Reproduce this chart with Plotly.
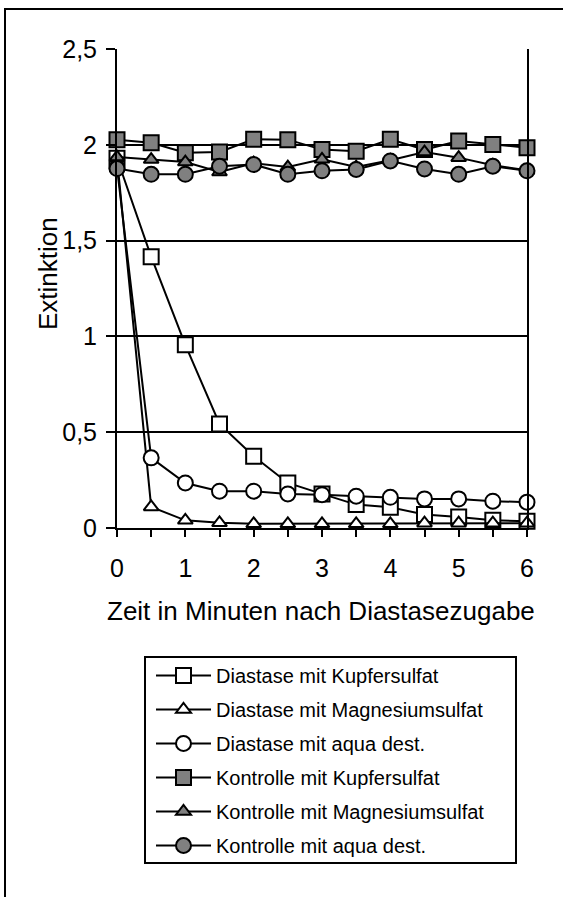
import plotly.graph_objects as go

# ---- data ----
zeit = [0, 0.5, 1, 1.5, 2, 2.5, 3, 3.5, 4, 4.5, 5, 5.5, 6]

diastase_kupfer = [1.93, 1.416, 0.956, 0.543, 0.374, 0.235, 0.178, 0.122, 0.108, 0.07, 0.058, 0.041, 0.035]
diastase_magnesium = [1.93, 0.11, 0.04, 0.027, 0.022, 0.022, 0.022, 0.022, 0.022, 0.025, 0.025, 0.025, 0.025]
diastase_aqua = [1.88, 0.366, 0.235, 0.192, 0.192, 0.178, 0.174, 0.166, 0.16, 0.152, 0.152, 0.14, 0.135]
kontrolle_kupfer = [2.027, 2.011, 1.959, 1.963, 2.029, 2.027, 1.975, 1.966, 2.029, 1.975, 2.02, 2.001, 1.985]
kontrolle_magnesium = [1.936, 1.923, 1.91, 1.858, 1.904, 1.884, 1.924, 1.884, 1.919, 1.962, 1.933, 1.893, 1.867]
kontrolle_aqua = [1.876, 1.846, 1.846, 1.888, 1.897, 1.846, 1.864, 1.871, 1.916, 1.874, 1.846, 1.888, 1.864]

series_names = [
    "Diastase mit Kupfersulfat",
    "Diastase mit Magnesiumsulfat",
    "Diastase mit aqua dest.",
    "Kontrolle mit Kupfersulfat",
    "Kontrolle mit Magnesiumsulfat",
    "Kontrolle mit aqua dest.",
]
series_values = [diastase_kupfer, diastase_magnesium, diastase_aqua,
                 kontrolle_kupfer, kontrolle_magnesium, kontrolle_aqua]

y_tickvals = [0, 0.5, 1, 1.5, 2, 2.5]
y_ticktext = ["0", "0,5", "1", "1,5", "2", "2,5"]
x_tickvals = [0, 0.5, 1, 1.5, 2, 2.5, 3, 3.5, 4, 4.5, 5, 5.5, 6]
x_ticktext = ["0", "", "1", "", "2", "", "3", "", "4", "", "5", "", "6"]

x_title = "Zeit in Minuten nach Diastasezugabe"
y_title = "Extinktion"

# ---- styles ----
GRAY = "#808080"
symbols = ["square", "triangle-up", "circle", "square", "triangle-up", "circle"]
fills = ["white", "white", "white", GRAY, GRAY, GRAY]
sizes = [15, 13, 15, 15, 13, 15]
FONT = "Liberation Sans, Arial, sans-serif"

W, H = 563, 897
ML, MR, MT, MB = 117, 36, 49, 369
PW = W - ML - MR
PH = H - MT - MB


def px_x(p):
    return (p - ML) / PW


def px_y(p):
    return (H - MB - p) / PH


fig = go.Figure()
for i, (name, vals) in enumerate(zip(series_names, series_values)):
    fig.add_trace(go.Scatter(
        x=zeit, y=vals, name=name, mode="lines+markers",
        line=dict(color="black", width=2),
        marker=dict(symbol=symbols[i], size=sizes[i], color=fills[i],
                    line=dict(color="black", width=2)),
        cliponaxis=False,
        legendgroup=f"g{i}",
    ))

fig.update_layout(
    width=W, height=H,
    margin=dict(l=ML, r=MR, t=MT, b=MB, pad=0),
    paper_bgcolor="white", plot_bgcolor="white",
    font=dict(family=FONT, size=25, color="black"),
    showlegend=True,
    legend=dict(
        x=px_x(151), y=px_y(656), xanchor="left", yanchor="top",
        font=dict(family=FONT, size=20, color="black"),
        bgcolor="rgba(0,0,0,0)", borderwidth=0,
        tracegroupgap=5, itemwidth=55,
        traceorder="grouped",
    ),
    xaxis=dict(
        range=[0, 6], tickmode="array", tickvals=x_tickvals, ticktext=x_ticktext,
        ticks="outside", ticklen=7, tickwidth=2, tickcolor="black",
        showline=True, linecolor="black", linewidth=2,
        showgrid=False, zeroline=False,
        ticklabelstandoff=10,
        tickfont=dict(family=FONT, size=25, color="black"),
    ),
    yaxis=dict(
        range=[0, 2.5], tickmode="array", tickvals=y_tickvals, ticktext=y_ticktext,
        ticks="outside", ticklen=9, tickwidth=2, tickcolor="black",
        showline=True, linecolor="black", linewidth=2, mirror=True,
        showgrid=True, gridcolor="black", gridwidth=2,
        zeroline=False, ticklabelstandoff=4,
        tickfont=dict(family=FONT, size=25, color="black"),
    ),
    annotations=[
        dict(text=x_title, xref="paper", yref="paper", x=px_x(321), y=px_y(611),
             xanchor="center", yanchor="middle", showarrow=False,
             font=dict(family=FONT, size=26, color="black")),
        dict(text=y_title, xref="paper", yref="paper", x=px_x(48), y=px_y(274),
             xanchor="center", yanchor="middle", showarrow=False, textangle=-90,
             font=dict(family=FONT, size=26, color="black")),
    ],
    shapes=[
        dict(type="rect", xref="paper", yref="paper",
             x0=px_x(5), x1=px_x(570), y0=px_y(905), y1=px_y(9),
             line=dict(color="black", width=2), fillcolor="rgba(0,0,0,0)", layer="below"),
        dict(type="rect", xref="paper", yref="paper",
             x0=px_x(145), x1=px_x(516), y0=px_y(863), y1=px_y(657),
             line=dict(color="black", width=2), fillcolor="rgba(0,0,0,0)"),
    ],
)

fig.write_html("out.html", config={"displayModeBar": False},
               post_script="document.body.style.margin='0px';")
